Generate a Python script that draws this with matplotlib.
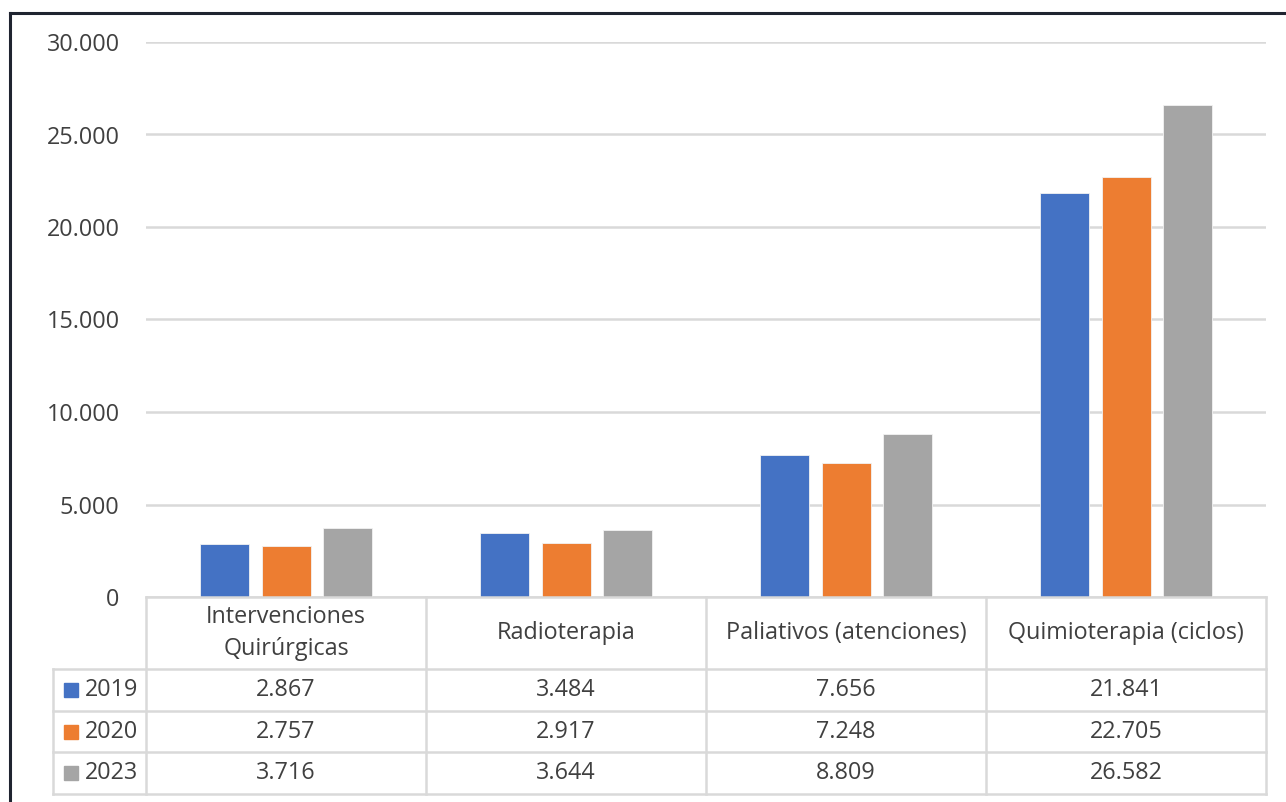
import matplotlib
matplotlib.use("Agg")
import matplotlib.pyplot as plt
from matplotlib.lines import Line2D
from matplotlib.patches import Rectangle
from matplotlib.ticker import FuncFormatter, MultipleLocator

categories = ["Intervenciones\nQuirúrgicas", "Radioterapia", "Paliativos (atenciones)", "Quimioterapia (ciclos)"]
series_names = ["2019", "2020", "2023"]
v2019 = [2867, 3484, 7656, 21841]
v2020 = [2757, 2917, 7248, 22705]
v2023 = [3716, 3644, 8809, 26582]
series_values = [v2019, v2020, v2023]
colors = ["#4472C4", "#ED7D31", "#A5A5A5"]

plt.rcParams['font.family'] = ['Open Sans', 'DejaVu Sans']
txt_color = "#404040"
grid_color = "#D9D9D9"
fs = 16.8

W, H = 1286, 802
fig = plt.figure(figsize=(W / 100, H / 100), dpi=100)

# main plot area
ax = fig.add_axes([146 / W, (H - 597) / H, (1266 - 146) / W, (597 - 42) / H])
ax.set_xlim(-0.5, len(categories) - 0.5)
ax.set_ylim(0, 30000)
ax.yaxis.set_major_locator(MultipleLocator(5000))
ax.yaxis.set_major_formatter(FuncFormatter(lambda v, p: f"{int(v):,}".replace(",", ".")))
ax.tick_params(axis='y', length=0, pad=19, labelsize=fs, labelcolor=txt_color)
ax.tick_params(axis='x', length=0, labelbottom=False)
for s in ax.spines.values():
    s.set_visible(False)
ax.grid(axis='y', color=grid_color, linewidth=1.8)
ax.set_axisbelow(True)

bw = 0.175
offs = [-0.221, 0.0, 0.221]
for vals, c, o in zip(series_values, colors, offs):
    ax.bar([i + o for i in range(len(categories))], vals, width=bw, color=c,
           edgecolor="#F2F2F2", linewidth=0.6, zorder=3)

# data table
left_col = 93 / 280
tax = fig.add_axes([53 / W, (H - 794) / H, (1266 - 53) / W, (794 - 597) / H])
tax.set_xlim(-0.5 - left_col, len(categories) - 0.5)
tax.set_ylim(197, 0)
tax.axis('off')
row_edges = [0, 72, 114, 155, 197]
lw = 1.8
xl = -0.5 - left_col
xr = len(categories) - 0.5
tax.add_line(Line2D([-0.5, xr], [0, 0], color=grid_color, lw=lw, clip_on=False))
for y in row_edges[1:]:
    tax.add_line(Line2D([xl, xr], [y, y], color=grid_color, lw=lw, clip_on=False))
for i in range(len(categories) + 1):
    tax.add_line(Line2D([i - 0.5, i - 0.5], [0, 197], color=grid_color, lw=lw, clip_on=False))
tax.add_line(Line2D([xl, xl], [72, 197], color=grid_color, lw=lw, clip_on=False))

for i, cat in enumerate(categories):
    tax.text(i, 36, cat, ha='center', va='center', fontsize=fs, color=txt_color, linespacing=1.45)
for r, (name, vals, c) in enumerate(zip(series_names, series_values, colors)):
    yc = (row_edges[r + 1] + row_edges[r + 2]) / 2
    tax.add_patch(Rectangle((xl + 11 / 280, yc - 7), 14 / 280, 14, color=c, clip_on=False))
    tax.text(xl + 32 / 280, yc, name, ha='left', va='center', fontsize=fs, color=txt_color)
    for i, v in enumerate(vals):
        tax.text(i, yc, f"{v:,}".replace(",", "."), ha='center', va='center', fontsize=fs, color=txt_color)

# outer frame (top and left visible)
fig.add_artist(Line2D([10 / W, 10 / W], [0, (H - 13) / H], color="#1F2430", lw=2.2))
fig.add_artist(Line2D([10 / W, 1], [(H - 13) / H, (H - 13) / H], color="#1F2430", lw=2.2))

fig.savefig("out.png", dpi=100)
